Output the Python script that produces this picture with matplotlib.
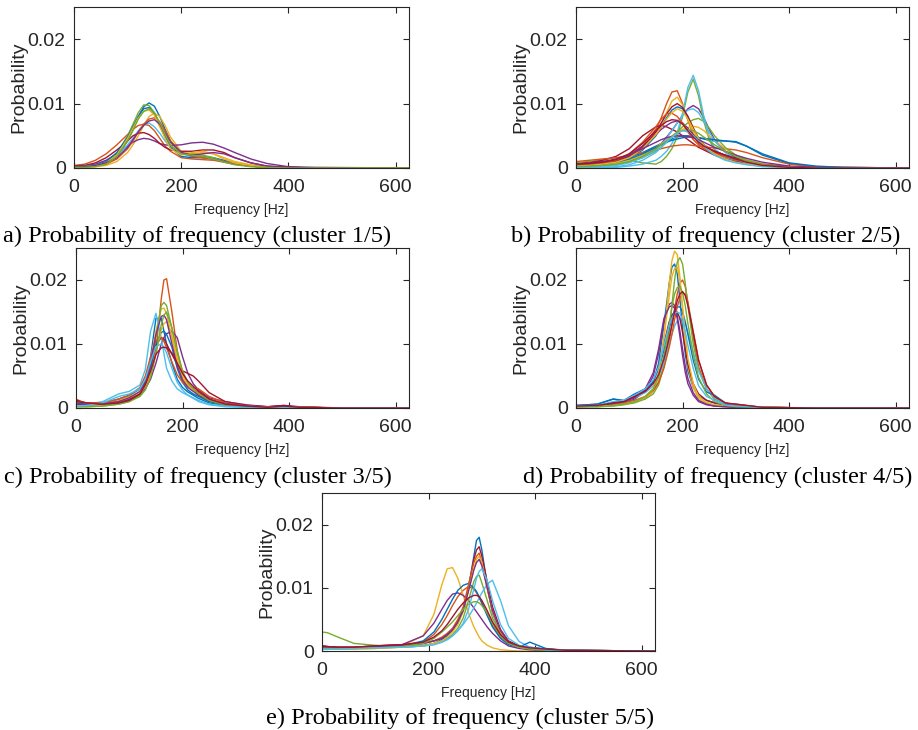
import matplotlib
matplotlib.use("Agg")
import matplotlib.pyplot as plt

# matlab default colour order
matlab_colors = ['#0072BD', '#D95319', '#EDB120', '#7E2F8E', '#77AC30', '#4DBEEE', '#A2142F']

# probability values are stored as probability x 1e4
# cluster 1/5
freq_a = [0, 20, 40, 60, 80, 100, 110, 120, 130, 140, 150, 160, 170, 180, 200, 220, 240, 260, 280, 300, 330, 360, 400, 450, 625]
prob_a = [
    [3, 3, 4, 8, 18, 42, 60, 80, 95, 101, 96, 80, 60, 42, 24, 20, 18, 16, 12, 8, 4, 2, 1, 0, 0],
    [4, 6, 12, 22, 36, 52, 60, 66, 68, 66, 58, 46, 34, 26, 16, 14, 13, 12, 9, 6, 3, 1, 0, 0, 0],
    [1, 1, 2, 4, 10, 24, 36, 50, 66, 80, 85, 80, 66, 48, 26, 22, 24, 22, 16, 10, 5, 2, 1, 0, 0],
    [2, 3, 6, 12, 22, 34, 40, 44, 46, 45, 42, 38, 36, 35, 36, 39, 40, 37, 31, 24, 14, 7, 2, 1, 0],
    [2, 2, 3, 8, 22, 50, 68, 86, 98, 97, 86, 68, 50, 34, 22, 22, 20, 16, 10, 6, 3, 1, 0, 0, 0],
    [1, 2, 4, 8, 18, 36, 46, 58, 67, 70, 64, 54, 42, 32, 22, 18, 16, 14, 10, 6, 3, 1, 0, 0, 0],
    [3, 4, 8, 16, 28, 42, 50, 54, 55, 52, 46, 38, 32, 28, 26, 26, 28, 28, 24, 16, 8, 3, 1, 0, 0],
    [2, 3, 5, 10, 24, 48, 64, 80, 92, 94, 84, 66, 48, 32, 18, 16, 16, 14, 10, 6, 3, 1, 0, 0, 0],
    [1, 2, 3, 6, 14, 30, 42, 56, 68, 76, 78, 72, 58, 42, 24, 18, 16, 14, 10, 6, 3, 1, 0, 0, 0],
    [1, 2, 4, 8, 20, 46, 62, 78, 88, 90, 82, 64, 46, 30, 20, 24, 26, 22, 14, 8, 4, 1, 0, 0, 0],
    [2, 2, 4, 8, 16, 32, 44, 56, 66, 73, 75, 68, 54, 40, 24, 20, 22, 24, 22, 16, 8, 3, 1, 0, 0],
    [1, 1, 2, 6, 18, 42, 58, 76, 88, 92, 86, 70, 52, 36, 22, 20, 18, 14, 9, 5, 2, 1, 0, 0, 0],
]

# cluster 2/5
freq_b = [0, 25, 50, 75, 100, 125, 150, 160, 170, 180, 190, 200, 210, 220, 230, 240, 250, 260, 280, 300, 320, 350, 400, 450, 500, 625]
prob_b = [
    [8, 9, 10, 12, 16, 24, 34, 38, 42, 45, 48, 50, 50, 49, 47, 45, 43, 42, 42, 41, 34, 20, 7, 2, 1, 0],
    [6, 6, 8, 12, 20, 34, 60, 78, 100, 118, 120, 100, 74, 52, 38, 30, 26, 22, 16, 12, 8, 4, 1, 0, 0, 0],
    [4, 5, 6, 9, 15, 28, 52, 68, 86, 104, 110, 98, 76, 56, 42, 34, 28, 24, 18, 13, 9, 5, 2, 1, 0, 0],
    [2, 2, 3, 5, 10, 18, 30, 38, 48, 58, 70, 82, 92, 97, 92, 78, 60, 44, 26, 16, 10, 5, 1, 0, 0, 0],
    [8, 10, 13, 16, 12, 8, 6, 10, 18, 30, 48, 80, 118, 138, 112, 72, 44, 28, 16, 10, 6, 3, 1, 0, 0, 0],
    [0, 0, 0, 1, 3, 6, 12, 18, 26, 38, 55, 85, 125, 144, 120, 80, 50, 30, 16, 10, 6, 3, 1, 0, 0, 0],
    [6, 8, 12, 18, 30, 50, 64, 66, 64, 60, 56, 50, 44, 38, 32, 28, 24, 20, 14, 10, 7, 4, 1, 0, 0, 0],
    [5, 6, 8, 10, 16, 28, 50, 64, 78, 90, 95, 92, 80, 62, 46, 36, 30, 26, 20, 16, 12, 6, 2, 1, 0, 0],
    [10, 12, 14, 16, 20, 24, 28, 30, 32, 34, 35, 36, 36, 35, 34, 33, 32, 31, 30, 28, 24, 16, 6, 2, 1, 0],
    [3, 4, 5, 7, 12, 20, 32, 38, 44, 50, 56, 60, 63, 65, 63, 58, 50, 42, 30, 20, 13, 6, 2, 0, 0, 0],
    [5, 6, 8, 12, 20, 34, 52, 60, 66, 71, 73, 70, 62, 52, 42, 34, 28, 24, 18, 13, 9, 4, 1, 0, 0, 0],
    [2, 2, 3, 5, 9, 16, 26, 32, 40, 48, 56, 64, 70, 75, 77, 72, 62, 50, 32, 20, 12, 6, 2, 0, 0, 0],
    [1, 1, 2, 4, 8, 16, 28, 36, 46, 58, 70, 82, 90, 92, 86, 72, 56, 42, 24, 14, 8, 4, 1, 0, 0, 0],
    [4, 5, 7, 10, 18, 32, 56, 70, 84, 95, 100, 94, 80, 62, 46, 36, 30, 26, 20, 15, 10, 5, 2, 0, 0, 0],
    [3, 4, 6, 9, 14, 22, 32, 36, 40, 43, 45, 47, 48, 48, 47, 46, 45, 44, 42, 40, 34, 22, 8, 3, 1, 0],
    [5, 6, 8, 12, 22, 40, 64, 76, 84, 85, 80, 70, 56, 44, 36, 30, 26, 23, 18, 14, 10, 5, 1, 0, 0, 0],
    [3, 4, 6, 9, 16, 30, 52, 64, 76, 86, 92, 88, 76, 60, 46, 36, 28, 22, 14, 9, 6, 3, 1, 0, 0, 0],
    [6, 8, 10, 14, 20, 30, 40, 44, 47, 49, 50, 50, 49, 47, 44, 40, 36, 32, 26, 20, 15, 9, 3, 1, 0, 0],
    [2, 3, 4, 6, 10, 18, 30, 36, 42, 48, 54, 58, 60, 58, 54, 48, 42, 36, 26, 18, 11, 5, 1, 0, 0, 0],
    [0, 0, 1, 2, 5, 12, 24, 32, 40, 48, 54, 58, 56, 50, 42, 34, 26, 20, 12, 8, 5, 2, 1, 0, 0, 0],
    [6, 7, 9, 13, 22, 38, 58, 66, 72, 75, 74, 68, 58, 48, 40, 34, 30, 26, 20, 14, 9, 4, 1, 0, 0, 0],
]

# cluster 3/5
freq_c = [0, 20, 50, 80, 100, 120, 130, 140, 150, 160, 165, 170, 180, 190, 200, 210, 220, 230, 250, 280, 320, 360, 390, 420, 500, 625]
prob_c = [
    [8, 6, 6, 10, 14, 24, 40, 80, 140, 140, 120, 100, 70, 45, 32, 25, 20, 15, 8, 4, 2, 1, 2, 1, 0, 0],
    [14, 6, 5, 8, 12, 20, 30, 50, 90, 170, 200, 202, 150, 90, 55, 38, 30, 24, 14, 7, 3, 2, 3, 1, 0, 0],
    [4, 4, 6, 12, 18, 30, 45, 75, 120, 155, 156, 148, 110, 72, 46, 34, 28, 22, 12, 6, 3, 1, 2, 1, 0, 0],
    [6, 5, 6, 10, 14, 22, 30, 45, 70, 100, 110, 116, 120, 110, 80, 54, 38, 28, 16, 10, 5, 2, 4, 1, 0, 0],
    [2, 2, 3, 6, 10, 20, 34, 60, 110, 160, 165, 160, 125, 85, 55, 38, 28, 20, 10, 5, 2, 1, 2, 1, 0, 0],
    [4, 6, 10, 22, 26, 36, 60, 120, 148, 110, 85, 62, 42, 30, 24, 20, 16, 12, 6, 3, 1, 1, 2, 1, 0, 0],
    [12, 8, 6, 8, 12, 22, 38, 65, 98, 110, 108, 100, 84, 68, 58, 54, 50, 42, 24, 10, 4, 2, 4, 2, 0, 0],
    [6, 6, 8, 14, 20, 30, 42, 65, 100, 118, 120, 115, 95, 62, 40, 28, 22, 18, 10, 6, 3, 1, 2, 1, 0, 0],
    [10, 8, 8, 14, 20, 32, 50, 80, 105, 110, 104, 94, 72, 52, 40, 34, 32, 30, 18, 8, 3, 1, 2, 1, 0, 0],
    [4, 4, 5, 10, 16, 24, 34, 52, 85, 122, 132, 135, 115, 78, 50, 36, 28, 22, 12, 6, 3, 1, 2, 1, 0, 0],
    [6, 5, 6, 10, 16, 26, 40, 70, 115, 143, 145, 138, 100, 66, 44, 32, 26, 20, 12, 7, 3, 1, 2, 1, 0, 0],
    [2, 2, 3, 6, 10, 18, 28, 48, 84, 130, 145, 150, 125, 88, 58, 40, 30, 22, 12, 6, 2, 1, 1, 1, 0, 0],
    [3, 4, 8, 18, 22, 30, 45, 72, 96, 100, 95, 86, 62, 40, 28, 20, 15, 10, 5, 2, 1, 0, 1, 0, 0, 0],
    [10, 8, 6, 8, 12, 22, 36, 58, 84, 94, 95, 94, 86, 70, 54, 42, 34, 26, 14, 6, 3, 1, 3, 1, 0, 0],
]

# cluster 4/5
freq_d = [0, 40, 70, 90, 110, 130, 145, 155, 165, 175, 180, 185, 190, 195, 200, 205, 210, 220, 230, 245, 260, 280, 300, 350, 450, 625]
prob_d = [
    [4, 6, 14, 10, 18, 26, 40, 70, 130, 195, 220, 225, 210, 170, 125, 85, 58, 32, 18, 12, 8, 4, 3, 1, 0, 0],
    [2, 3, 5, 6, 10, 16, 26, 40, 65, 105, 130, 155, 178, 195, 200, 190, 165, 110, 65, 30, 14, 6, 4, 1, 0, 0],
    [2, 3, 4, 6, 10, 16, 26, 50, 110, 195, 230, 245, 240, 205, 150, 100, 65, 32, 15, 8, 5, 3, 2, 1, 0, 0],
    [3, 4, 6, 8, 14, 26, 50, 85, 135, 162, 165, 160, 145, 120, 92, 66, 46, 24, 12, 6, 3, 2, 1, 0, 0, 0],
    [2, 2, 3, 5, 8, 14, 22, 36, 65, 120, 160, 200, 228, 235, 225, 195, 160, 100, 60, 30, 14, 6, 3, 1, 0, 0],
    [3, 4, 8, 10, 16, 24, 34, 48, 70, 100, 115, 128, 136, 140, 140, 132, 118, 88, 58, 30, 16, 6, 3, 1, 0, 0],
    [3, 4, 8, 10, 18, 28, 42, 65, 100, 135, 145, 150, 150, 140, 118, 92, 68, 38, 22, 12, 8, 5, 6, 1, 0, 0],
    [4, 6, 14, 12, 22, 30, 42, 60, 90, 125, 140, 152, 158, 158, 150, 135, 115, 75, 45, 25, 20, 8, 4, 1, 0, 0],
    [2, 3, 6, 8, 12, 18, 28, 40, 62, 95, 115, 138, 158, 172, 180, 178, 165, 120, 75, 36, 18, 8, 5, 1, 0, 0],
    [2, 3, 4, 6, 10, 18, 30, 55, 110, 175, 205, 218, 220, 200, 160, 115, 78, 38, 18, 9, 5, 3, 2, 1, 0, 0],
    [3, 4, 7, 10, 16, 30, 55, 92, 140, 158, 160, 156, 140, 112, 82, 56, 38, 20, 10, 5, 3, 2, 1, 0, 0, 0],
    [2, 2, 4, 6, 10, 18, 30, 48, 82, 130, 158, 178, 188, 190, 180, 160, 132, 84, 48, 22, 10, 4, 2, 1, 0, 0],
    [3, 4, 10, 12, 20, 30, 44, 64, 98, 130, 140, 148, 150, 148, 138, 120, 98, 62, 35, 18, 12, 5, 3, 1, 0, 0],
    [3, 4, 8, 10, 18, 26, 38, 52, 76, 110, 130, 150, 168, 178, 182, 176, 160, 118, 75, 36, 18, 8, 6, 1, 0, 0],
]

# cluster 5/5
freq_e = [0, 10, 30, 60, 100, 150, 190, 210, 225, 235, 245, 255, 265, 275, 285, 290, 295, 300, 310, 320, 335, 350, 370, 390, 420, 460, 625]
prob_e = [
    [6, 5, 4, 4, 5, 6, 8, 12, 18, 24, 32, 45, 65, 100, 150, 175, 180, 160, 105, 60, 28, 14, 8, 6, 3, 1, 0],
    [6, 5, 4, 4, 5, 7, 14, 26, 42, 56, 72, 86, 96, 102, 98, 92, 84, 76, 58, 40, 22, 12, 6, 4, 2, 1, 0],
    [4, 4, 3, 3, 4, 8, 24, 58, 105, 130, 132, 115, 88, 60, 38, 30, 22, 16, 9, 5, 2, 1, 0, 0, 0, 0, 0],
    [8, 7, 6, 6, 8, 10, 24, 44, 66, 80, 90, 92, 88, 80, 68, 62, 56, 50, 38, 28, 16, 8, 4, 2, 1, 0, 0],
    [30, 29, 22, 12, 9, 8, 9, 12, 16, 20, 26, 36, 52, 80, 110, 118, 120, 108, 80, 52, 28, 14, 7, 4, 2, 1, 0],
    [3, 3, 3, 4, 5, 6, 8, 10, 14, 18, 24, 32, 42, 54, 68, 76, 84, 92, 106, 112, 80, 40, 15, 6, 3, 1, 0],
    [8, 7, 6, 6, 8, 10, 12, 16, 20, 26, 34, 46, 66, 100, 145, 160, 165, 150, 110, 70, 34, 16, 8, 5, 3, 1, 0],
    [5, 5, 4, 4, 6, 8, 16, 30, 50, 66, 82, 96, 104, 107, 100, 94, 86, 76, 56, 38, 20, 10, 6, 14, 4, 1, 0],
    [6, 5, 4, 4, 6, 8, 12, 16, 22, 28, 36, 50, 70, 105, 140, 150, 155, 140, 100, 62, 30, 14, 7, 5, 2, 1, 0],
    [4, 4, 3, 3, 4, 6, 8, 12, 16, 22, 30, 42, 62, 96, 130, 145, 150, 140, 100, 62, 30, 14, 6, 4, 2, 0, 0],
    [6, 6, 5, 5, 7, 9, 12, 16, 20, 26, 34, 46, 64, 95, 128, 140, 145, 135, 100, 64, 32, 15, 7, 4, 2, 1, 0],
    [4, 4, 4, 4, 5, 7, 12, 20, 30, 38, 46, 56, 66, 74, 78, 78, 76, 72, 60, 44, 24, 12, 6, 3, 1, 0, 0],
    [3, 3, 3, 4, 5, 6, 8, 10, 14, 18, 24, 32, 44, 66, 98, 115, 126, 130, 112, 80, 42, 20, 9, 5, 2, 1, 0],
    [8, 7, 6, 6, 8, 10, 14, 22, 32, 42, 54, 66, 76, 84, 88, 88, 86, 80, 64, 46, 26, 14, 8, 5, 3, 1, 0],
]

captions = [
    "a) Probability of frequency (cluster 1/5)",
    "b) Probability of frequency (cluster 2/5)",
    "c) Probability of frequency (cluster 3/5)",
    "d) Probability of frequency (cluster 4/5)",
    "e) Probability of frequency (cluster 5/5)",
]

all_freq = [freq_a, freq_b, freq_c, freq_d, freq_e]
all_prob = [prob_a, prob_b, prob_c, prob_d, prob_e]

W, H = 918, 730
fig = plt.figure(figsize=(W / 100, H / 100), dpi=100)

# axes boxes in pixels: left, top, right, bottom
boxes = [(74, 7, 409, 168), (576, 7, 909, 168),
         (76, 248, 409, 408), (576, 248, 909, 408),
         (322, 493, 655, 651)]
# caption centres in pixels
cap_pos = [(197, 236), (706, 236), (198, 477), (718, 477), (460, 718)]

txt = '#262626'
for i in range(5):
    l, t, r, b = boxes[i]
    ax = fig.add_axes([l / W, 1 - b / H, (r - l) / W, (b - t) / H])
    for j, curve in enumerate(all_prob[i]):
        ax.plot(all_freq[i], [v * 1e-4 for v in curve],
                color=matlab_colors[j % 7], lw=1.0)
    ax.set_xlim(0, 625)
    ax.set_ylim(0, 0.025)
    ax.set_xticks([0, 200, 400, 600])
    ax.set_yticks([0, 0.01, 0.02])
    ax.set_yticklabels(['0', '0.01', '0.02'])
    ax.tick_params(direction='in', length=4, width=0.8, top=True, right=True,
                   labelsize=14, colors=txt)
    ax.tick_params(axis='x', pad=8)
    ax.tick_params(axis='y', pad=6)
    for lab in ax.get_xticklabels() + ax.get_yticklabels():
        lab.set_family('Liberation Sans')
        lab.set_color(txt)
    for s in ax.spines.values():
        s.set_color(txt)
        s.set_linewidth(0.8)
    ax.set_ylabel('Probability', fontsize=14, family='Liberation Sans', color=txt, labelpad=0)
    ax.set_xlabel('Frequency [Hz]', fontsize=10, family='Liberation Sans', color=txt, labelpad=5)
    cx, cy = cap_pos[i]
    fig.text(cx / W, 1 - cy / H, captions[i], ha='center', va='center',
             fontsize=17.6, family='Liberation Serif', color='black')

fig.savefig('out.png', dpi=100)
